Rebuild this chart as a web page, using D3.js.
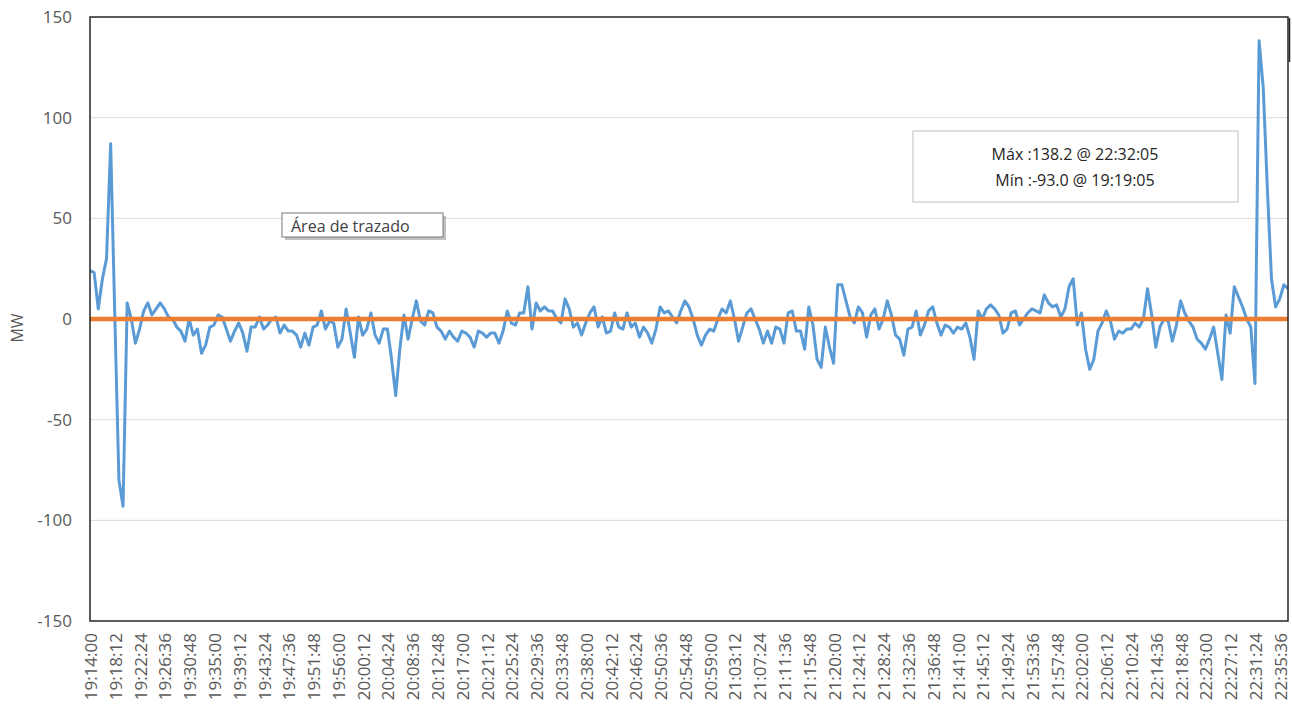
<!DOCTYPE html>
<html>
<head>
<meta charset="utf-8">
<script src="https://cdn.jsdelivr.net/npm/d3@7"></script>
<style>
    body { margin: 0; background: #ffffff; }
    svg text { font-family: "Open Sans", "Noto Sans", sans-serif; }
</style>
</head>
<body>
<div id="chart"></div>
<script>
// samples of the MW trace, one every 42 s starting at sampleStart
const sampleStart = "19:14:00";
const sampleStepSeconds = 42;
const mwValues = [
    24, 23, 5, 20, 30, 87, 2, -80, -93, 8,
    0, -12, -5, 4, 8, 2, 5, 8, 5, 1,
    0, -4, -6, -11, 0, -8, -5, -17, -13, -4,
    -3, 2, 1, -5, -11, -6, -2, -7, -16, -4,
    -4, 1, -5, -3, 0, 1, -7, -3, -6,
    -6, -8, -14, -7, -13, -4, -3, 4, -5, -1,
    -2, -14, -10, 5, -7, -19, 1, -8, -5, 3,
    -8, -12, -5, -5, -20, -38, -15, 2, -10, 0,
    9, -1, -3, 4, 3, -4, -6, -10, -6, -9,
    -11, -6, -7, -9, -14, -6, -7, -9, -7,
    -7, -12, -6, 4, -2, -3, 3, 3, 16, -5,
    8, 4, 6, 4, 4, 0, -2, 10, 5, -4,
    -2, -8, -2, 3, 6, -4, 1, -7, -6, 3,
    -4, -5, 3, -4, -2, -9, -4, -7, -12, -5,
    6, 3, 4, 1, -2, 4, 9, 6, 0,
    -8, -13, -8, -5, -6, 0, 5, 3, 9, 0,
    -11, -4, 3, 5, 0, -5, -12, -6, -12, -4,
    -5, -12, 3, 4, -6, -6, -15, 6, -3, -20,
    -24, -4, -14, -22, 17, 17, 9, 1, -2, 6,
    3, -9, 2, 5, -5, 0, 9, 2, -8,
    -10, -18, -5, -4, 4, -8, -3, 4, 6, -2,
    -8, -3, -4, -7, -4, -5, -2, -9, -20, 4,
    0, 5, 7, 5, 2, -7, -5, 3, 4, -3,
    0, 3, 5, 4, 3, 12, 8, 6, 7, 1,
    5, 16, 20, -3, 3, -15, -25,
    -20, -6, -2, 4, -1, -10, -6, -7, -5, -5,
    -2, -4, 0, 15, 2, -14, -4, 0, -1, -11,
    -3, 9, 3, -1, -4, -10, -12, -15, -10, -4,
    -17, -30, 2, -7, 16, 11, 6, 0, -4, -32,
    138.2, 115, 65, 20, 6, 10, 17, 15
];

const referenceTimes = ["19:14:00", "22:37:00"];
const referenceValues = [0, 0];

const tickLabels = [
    "19:14:00", "19:18:12", "19:22:24", "19:26:36", "19:30:48", "19:35:00", "19:39:12",
    "19:43:24", "19:47:36", "19:51:48", "19:56:00", "20:00:12", "20:04:24", "20:08:36",
    "20:12:48", "20:17:00", "20:21:12", "20:25:24", "20:29:36", "20:33:48", "20:38:00",
    "20:42:12", "20:46:24", "20:50:36", "20:54:48", "20:59:00", "21:03:12", "21:07:24",
    "21:11:36", "21:15:48", "21:20:00", "21:24:12", "21:28:24", "21:32:36", "21:36:48",
    "21:41:00", "21:45:12", "21:49:24", "21:53:36", "21:57:48", "22:02:00", "22:06:12",
    "22:10:24", "22:14:36", "22:18:48", "22:23:00", "22:27:12", "22:31:24", "22:35:36"
];
const yTicks = [-150, -100, -50, 0, 50, 100, 150];
const gridValues = [-100, -50, 50, 100];

const maxText = "Máx :138.2 @ 22:32:05";
const minText = "Mín :-93.0 @ 19:19:05";

function createChart() {
    const width = 1292;
    const height = 711;
    const plotLeft = 90, plotRight = 1288, plotTop = 17, plotBottom = 621;

    const parseTime = d3.timeParse("%H:%M:%S");
    const start = parseTime(sampleStart);

    const mwData = mwValues.map((v, i) => ({
        time: d3.timeSecond.offset(start, i * sampleStepSeconds),
        value: v
    }));
    const refData = referenceTimes.map((t, i) => ({ time: parseTime(t), value: referenceValues[i] }));

    const svg = d3.create('svg')
        .attr('width', width)
        .attr('height', height);

    const xScale = d3.scaleTime()
        .domain([parseTime(referenceTimes[0]), parseTime(referenceTimes[1])])
        .range([plotLeft, plotRight]);

    const yScale = d3.scaleLinear()
        .domain([-150, 150])
        .range([plotBottom, plotTop]);

    // gridlines
    svg.append('g')
        .selectAll('line')
        .data(gridValues)
        .enter().append('line')
        .attr('x1', plotLeft)
        .attr('x2', plotRight)
        .attr('y1', d => yScale(d))
        .attr('y2', d => yScale(d))
        .attr('stroke', '#d9d9d9')
        .attr('stroke-width', 1);

    const line = d3.line()
        .x(d => xScale(d.time))
        .y(d => yScale(d.value));

    svg.append('path')
        .datum(mwData)
        .attr('d', line)
        .attr('fill', 'none')
        .attr('stroke', '#5b9bd5')
        .attr('stroke-width', 3)
        .attr('stroke-linejoin', 'round');

    svg.append('path')
        .datum(refData)
        .attr('d', line)
        .attr('fill', 'none')
        .attr('stroke', '#ed7d31')
        .attr('stroke-width', 4.5);

    // plot frame
    svg.append('rect')
        .attr('x', plotLeft)
        .attr('y', plotTop)
        .attr('width', plotRight - plotLeft)
        .attr('height', plotBottom - plotTop)
        .attr('fill', 'none')
        .attr('stroke', '#262626')
        .attr('stroke-width', 1.5);

    svg.append('line')
        .attr('x1', 1289.5).attr('x2', 1289.5)
        .attr('y1', 18).attr('y2', 62)
        .attr('stroke', '#262626')
        .attr('stroke-width', 1.5);

    // y axis
    const yAxis = svg.append('g')
        .attr('transform', `translate(${plotLeft}, 0)`)
        .call(d3.axisLeft(yScale)
            .tickValues(yTicks)
            .tickFormat(d => String(d))
            .tickSize(0)
            .tickPadding(18));
    yAxis.select('.domain').remove();
    yAxis.selectAll('text')
        .attr('fill', '#595959')
        .style('font-size', '17px');

    svg.append('text')
        .attr('transform', 'translate(17, 328) rotate(-90)')
        .attr('text-anchor', 'middle')
        .attr('dominant-baseline', 'central')
        .attr('fill', '#595959')
        .style('font-size', '16px')
        .text('MW');

    // x axis
    const xAxis = svg.append('g')
        .attr('transform', `translate(0, ${plotBottom})`)
        .call(d3.axisBottom(xScale)
            .tickValues(tickLabels.map(parseTime))
            .tickFormat(d3.timeFormat("%H:%M:%S"))
            .tickSize(0));
    xAxis.select('.domain').remove();
    xAxis.selectAll('text')
        .attr('transform', 'rotate(-90)')
        .attr('x', -12)
        .attr('y', 0)
        .attr('dy', null)
        .attr('text-anchor', 'end')
        .attr('dominant-baseline', 'central')
        .attr('fill', '#595959')
        .style('font-size', '17px');

    // max / min annotation
    svg.append('rect')
        .attr('x', 913)
        .attr('y', 131)
        .attr('width', 325)
        .attr('height', 71)
        .attr('fill', '#ffffff')
        .attr('stroke', '#bfbfbf');

    svg.append('text')
        .attr('x', 1075)
        .attr('y', 154)
        .attr('text-anchor', 'middle')
        .attr('dominant-baseline', 'central')
        .attr('fill', '#262626')
        .style('font-size', '16px')
        .text(maxText);

    svg.append('text')
        .attr('x', 1075)
        .attr('y', 180)
        .attr('text-anchor', 'middle')
        .attr('dominant-baseline', 'central')
        .attr('fill', '#262626')
        .style('font-size', '16px')
        .text(minText);

    // "Área de trazado" tooltip
    svg.append('rect')
        .attr('x', 285)
        .attr('y', 216)
        .attr('width', 161)
        .attr('height', 24)
        .attr('fill', '#a6a6a6')
        .attr('opacity', 0.7);

    svg.append('rect')
        .attr('x', 282)
        .attr('y', 213)
        .attr('width', 161)
        .attr('height', 24)
        .attr('fill', '#ffffff')
        .attr('stroke', '#767676');

    svg.append('text')
        .attr('x', 291)
        .attr('y', 226)
        .attr('dominant-baseline', 'central')
        .attr('fill', '#404040')
        .style('font-size', '16px')
        .text('Área de trazado');

    d3.select('#chart').node().append(svg.node());
}

createChart();
</script>
</body>
</html>
